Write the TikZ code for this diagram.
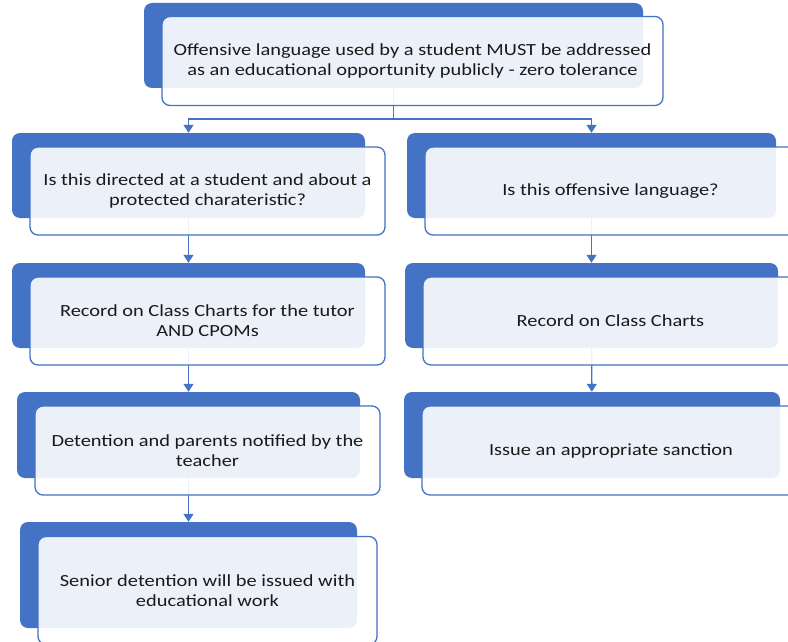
\documentclass[tikz,border=0pt]{standalone}
\usepackage{fontspec}
\setmainfont[FakeStretch=1.2]{Carlito}
\usetikzlibrary{arrows.meta}
\definecolor{chartBlue}{HTML}{4472C4}
\definecolor{chartText}{HTML}{1A1A1A}
\newcommand{\frontOpacity}[0]{0.9}
\newcommand{\boxFont}[0]{\fontsize{17}{20.2}\selectfont}

\begin{document}
\begin{tikzpicture}[x=1pt, y=-1pt]
  \tikzset{
    backbox/.style={fill=chartBlue, rounded corners=8pt, inner sep=0pt},
    frontbox/.style={draw=chartBlue, line width=1.3pt, fill=white, fill opacity=\frontOpacity,
      text opacity=1, rounded corners=8pt, inner sep=0pt, align=center,
      text=chartText, font=\boxFont, xshift=19pt, yshift=-15.5pt},
    link/.style={chartBlue, line width=1.4pt, -{Triangle[width=10pt,length=8pt]}}
  }
  \useasboundingbox (0,0) rectangle (788,642);
  % back boxes
  \node[backbox, minimum width=499pt, minimum height=85pt] (top-b) at (393.5,45.5) {};
  \node[backbox, minimum width=353pt, minimum height=85pt] (L1-b) at (188.5,175.5) {};
  \node[backbox, minimum width=369pt, minimum height=85pt] (R1-b) at (591.5,175.5) {};
  \node[backbox, minimum width=353pt, minimum height=85pt] (L2-b) at (188.5,305.5) {};
  \node[backbox, minimum width=373pt, minimum height=85pt] (R2-b) at (591.5,305.5) {};
  \node[backbox, minimum width=343pt, minimum height=86pt] (L3-b) at (188.5,435) {};
  \node[backbox, minimum width=376pt, minimum height=86pt] (R3-b) at (592,435) {};
  \node[backbox, minimum width=337pt, minimum height=106pt] (L4-b) at (188.5,575) {};
  % connectors
  \draw[chartBlue, line width=1.4pt] (top-b.south) -- ++(0,31) coordinate (split);
  \draw[link] (split) -| (L1-b.north);
  \draw[link] (split) -| (R1-b.north);
  \draw[link] (L1-b) -- (L2-b);
  \draw[link] (R1-b) -- (R2-b);
  \draw[link] (L2-b) -- (L3-b);
  \draw[link] (R2-b) -- (R3-b);
  \draw[link] (L3-b) -- (L4-b);
  % front boxes
  \node[frontbox, minimum width=501pt, minimum height=89pt] (top) at (top-b)
    {Offensive language used by a student MUST be addressed\\as an educational opportunity publicly - zero tolerance};
  \node[frontbox, minimum width=355pt, minimum height=88pt] (L1) at (L1-b)
    {Is this directed at a student and about a\\protected charateristic?};
  \node[frontbox, minimum width=371pt, minimum height=88pt] (R1) at (R1-b)
    {Is this offensive language?};
  \node[frontbox, minimum width=355pt, minimum height=88pt] (L2) at (L2-b)
    {Record on Class Charts for the tutor\\AND CPOMs};
  \node[frontbox, minimum width=375pt, minimum height=88pt] (R2) at (R2-b)
    {Record on Class Charts};
  \node[frontbox, minimum width=345pt, minimum height=89pt] (L3) at (L3-b)
    {Detention and parents notified by the\\teacher};
  \node[frontbox, minimum width=378pt, minimum height=89pt] (R3) at (R3-b)
    {Issue an appropriate sanction};
  \node[frontbox, minimum width=339pt, minimum height=108pt] (L4) at (L4-b)
    {Senior detention will be issued with\\educational work};
\end{tikzpicture}
\end{document}
